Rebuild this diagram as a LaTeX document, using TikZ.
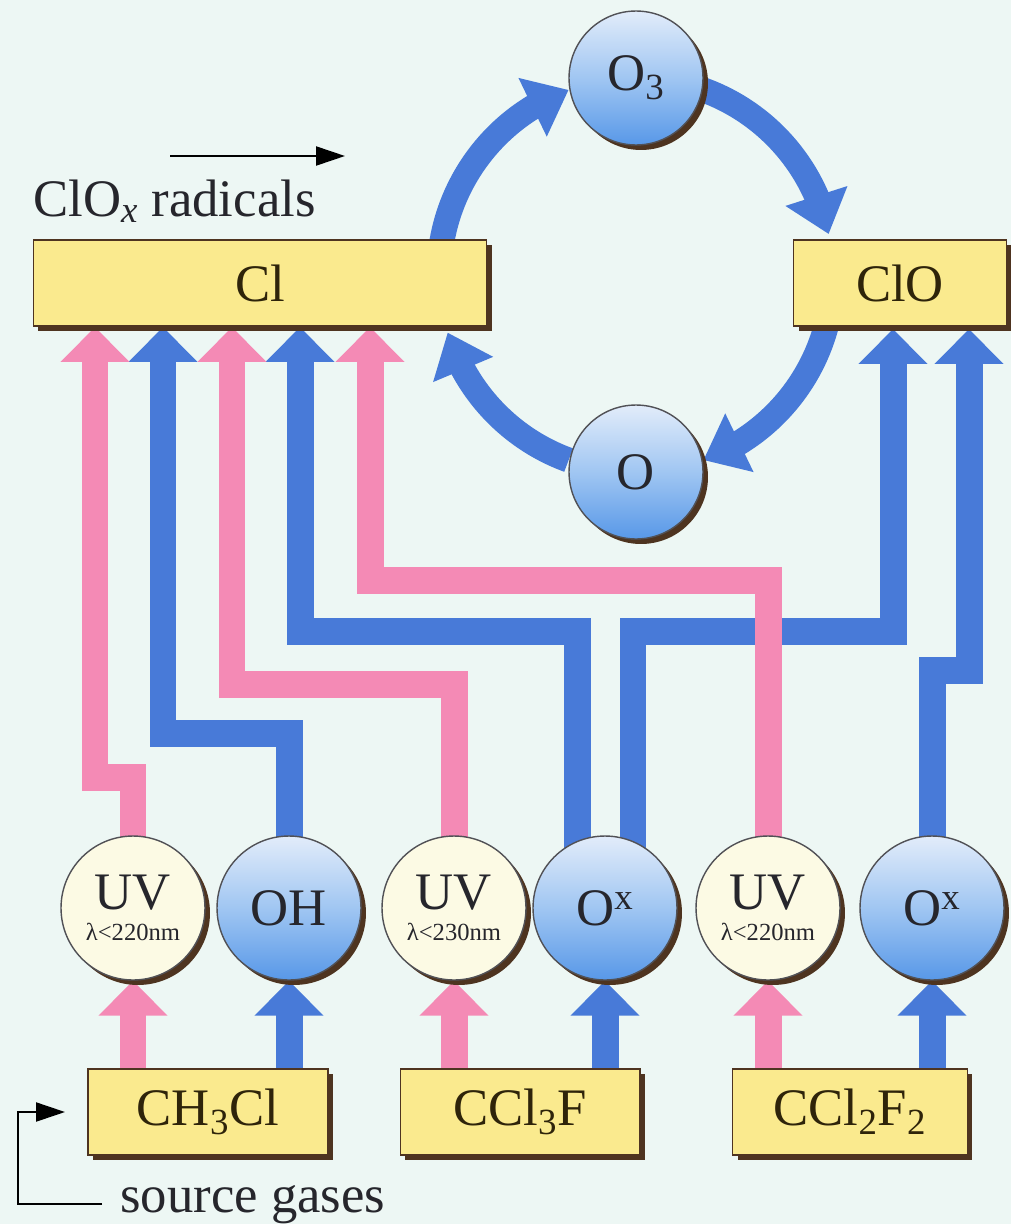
\documentclass[tikz,border=0pt]{standalone}
\usepackage{fontspec}
\setmainfont{Liberation Serif}
\usetikzlibrary{arrows.meta}
\usetikzlibrary{bending}
\usetikzlibrary{shadows}
\pgfdeclarelayer{back}
\pgfdeclarelayer{flow}
\pgfsetlayers{back,flow,main}
\definecolor{mint}{RGB}{237,247,244}
\definecolor{flowpink}{RGB}{244,138,181}
\definecolor{flowblue}{RGB}{72,122,216}
\definecolor{boxyellow}{RGB}{250,234,142}
\definecolor{shadebrown}{RGB}{78,52,32}
\definecolor{uvcream}{RGB}{252,250,228}
\definecolor{balltop}{RGB}{226,236,250}
\definecolor{ballmid}{RGB}{160,198,242}
\definecolor{ballbot}{RGB}{88,152,232}
\definecolor{inkgrey}{RGB}{38,38,44}
\definecolor{boxink}{RGB}{46,36,10}
\newcommand{\lamtext}{\fontsize{14}{14}\selectfont}
\tikzset{bigtext/.style = {font=\fontsize{30}{31}\selectfont},
         hardshadow/.style = {general shadow={fill=shadebrown, shadow xshift=0.1cm, shadow yshift=-0.1cm}},
         chembox/.style = {rectangle, hardshadow, fill=boxyellow, draw=shadebrown, line width=0.6pt,
                           minimum height=1.72cm, inner sep=0pt, text=boxink, bigtext},
         ball/.style = {circle, hardshadow, draw=inkgrey!80, line width=0.8pt, minimum size=#1,
                        inner sep=0pt, text=inkgrey, bigtext,
                        top color=balltop, bottom color=ballbot, middle color=ballmid},
         uvnode/.style = {circle, hardshadow, fill=uvcream, draw=inkgrey!80, line width=0.8pt,
                          minimum size=2.88cm, inner sep=0pt, align=center, text=inkgrey, bigtext},
         pinkflow/.style = {draw=flowpink, line width=0.54cm, line join=miter,
                            -{Triangle[width=1.34cm, length=0.7cm]}},
         blueflow/.style = {draw=flowblue, line width=0.54cm, line join=miter,
                            -{Triangle[width=1.34cm, length=0.7cm]}},
         ringflow/.style = {draw=flowblue, line width=0.5cm, -{Triangle[width=1.25cm, length=0.8cm]}},
         guide/.style = {draw=black, line width=1.2pt, -{Triangle[width=0.38cm, length=0.58cm]}}}
\begin{document}
\begin{tikzpicture}[x=0.02cm, y=-0.02cm]
    \useasboundingbox (0,0) rectangle (1011,1224);
    \begin{pgfonlayer}{back}
      \fill[mint] (0,0) rectangle (1011,1224);
    \end{pgfonlayer}

    \node[bigtext, text=inkgrey, anchor=base west, inner sep=0pt] (radlabel) at (33,216) {ClO\textsubscript{\textit{x}} radicals};
    \coordinate (radtail) at (170,156);
    \coordinate (radtip) at (345,156);
    \draw[guide] (radtail) -- (radtip);

    \node[chembox, minimum width=9.08cm] (cl) at (260,283) {Cl};
    \node[chembox, minimum width=4.26cm] (clo) at (900,283) {ClO};
    \node[ball=2.68cm] (othree) at (636,78) {O\textsubscript{3}};
    \node[ball=2.68cm] (oatom) at (636,472) {O};

    \node[uvnode] (uva) at (133,908) {UV\\[-13pt]{\lamtext λ<220nm}};
    \node[ball=2.88cm] (oh) at (289,908) {OH};
    \node[uvnode] (uvb) at (454,908) {UV\\[-13pt]{\lamtext λ<230nm}};
    \node[ball=2.88cm] (oxa) at (605,908) {O\textsuperscript{x}};
    \node[uvnode] (uvc) at (768,908) {UV\\[-13pt]{\lamtext λ<220nm}};
    \node[ball=2.88cm] (oxb) at (932,908) {O\textsuperscript{x}};

    \node[chembox, minimum width=4.8cm] (chcl) at (208,1112) {CH\textsubscript{3}Cl};
    \node[chembox, minimum width=4.8cm] (cclf) at (520,1112) {CCl\textsubscript{3}F};
    \node[chembox, minimum width=4.7cm] (cclff) at (850,1112) {CCl\textsubscript{2}F\textsubscript{2}};

    \node[bigtext, text=inkgrey, anchor=base west, inner sep=0pt] (srclabel) at (120,1212) {source gases};
    \coordinate (srcend) at (102,1204);
    \coordinate (srctip) at (65,1112);
    \draw[guide] (srcend) -- ++(-84,0) |- (srctip);

    \coordinate (ring) at (636,275);
    \coordinate (cla) at (95,327);
    \coordinate (clb) at (163,327);
    \coordinate (clc) at (232,327);
    \coordinate (cld) at (300,327);
    \coordinate (cle) at (370,327);
    \coordinate (cloa) at (893,329);
    \coordinate (clob) at (969,329);

    \begin{pgfonlayer}{flow}
      \draw[ringflow] ([shift={(180:3.94cm)}]ring) arc[start angle=180, end angle=110, radius=3.94cm];
      \draw[ringflow] ([shift={(70:3.94cm)}]ring) arc[start angle=70, end angle=12, radius=3.94cm];
      \draw[ringflow] ([shift={(-5:3.94cm)}]ring) arc[start angle=-5, end angle=-70, radius=3.94cm];
      \draw[ringflow] ([shift={(-110:3.94cm)}]ring) arc[start angle=-110, end angle=-163, radius=3.94cm];

      \draw[blueflow] (oh |- chcl.center) -- (oh.south);
      \draw[blueflow] (oxa |- cclf.center) -- (oxa.south);
      \draw[blueflow] (oxb |- cclff.center) -- (oxb.south);
      \draw[pinkflow] (uva |- chcl.center) -- (uva.south);
      \draw[pinkflow] (uvb |- cclf.center) -- (uvb.south);
      \draw[pinkflow] (uvc |- cclff.center) -- (uvc.south);

      \draw[blueflow] (oh.center) -- ++(0,-175) -| (clb);
      \draw[blueflow] ([xshift=-0.56cm]oxa.center) -- ++(0,-277) -| (cld);
      \draw[blueflow] ([xshift=0.56cm]oxa.center) -- ++(0,-277) -| (cloa);
      \draw[blueflow] (oxb.center) -- ++(0,-238) -| (clob);
      \draw[pinkflow] (uva.center) -- ++(0,-131) -| (cla);
      \draw[pinkflow] (uvb.center) -- ++(0,-224) -| (clc);
      \draw[pinkflow] (uvc.center) -- ++(0,-328) -| (cle);
    \end{pgfonlayer}
\end{tikzpicture}
\end{document}
